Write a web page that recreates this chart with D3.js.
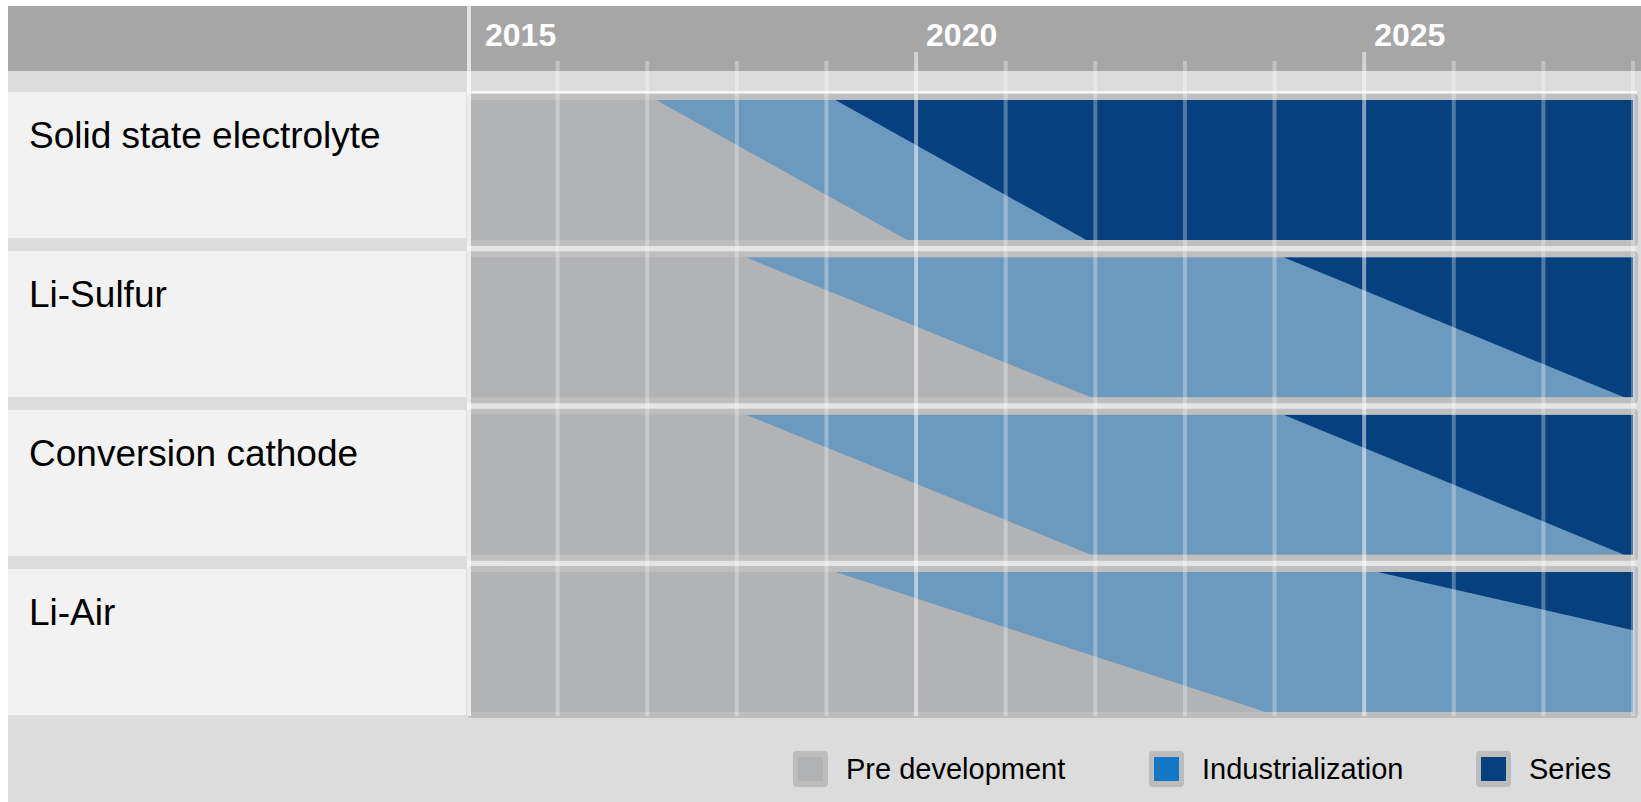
<!DOCTYPE html>
<html>
<head>
<meta charset="utf-8">
<script src="https://cdn.jsdelivr.net/npm/d3@7"></script>
<style>
  body { margin: 0; background: #fff; }
  svg text { font-family: 'Liberation Sans', Arial, sans-serif; }
</style>
</head>
<body>
<div id="chart"></div>
<script>
const technologies = ['Solid state electrolyte', 'Li-Sulfur', 'Conversion cathode', 'Li-Air']
// year where each phase boundary meets the top / bottom edge of a row
const industrializationTop = [2017.1, 2018.1, 2018.1, 2019.1]
const industrializationBottom = [2019.9, 2021.95, 2021.95, 2023.9]
const seriesTop = [2019.1, 2024.1, 2024.1, 2025.15]
const seriesBottom = [2021.9, 2027.9, 2027.9, 2032]
const yearLabels = [2015, 2020, 2025]
const phases = ['Pre development', 'Industrialization', 'Series']

const W = 1641
const H = 802
const colors = {
  pre: '#b2b3b5',
  ind: '#6c9abf',
  ser: '#07407e'
}
const legendColors = ['#b1b2b4', '#1477c5', '#07407e']

const rows = technologies.map((name, i) => ({
  name,
  indTop: industrializationTop[i],
  indBottom: industrializationBottom[i],
  serTop: seriesTop[i],
  serBottom: seriesBottom[i]
}))

const svg = d3.select('#chart')
  .append('svg')
  .attr('width', W)
  .attr('height', H)

const x = d3.scaleLinear()
  .domain([2015, 2028])
  .range([468, 1633])

const yLabel = d3.scaleBand()
  .domain(technologies)
  .range([92, 715])
  .paddingInner(0.082)

const yRow = d3.scaleBand()
  .domain(technologies)
  .range([100, 712])
  .paddingInner(0.11)

// backgrounds
svg.append('rect')
  .attr('x', 8).attr('y', 6)
  .attr('width', W - 8).attr('height', H - 6)
  .attr('fill', '#dcdcdc')

svg.append('rect')
  .attr('x', 8).attr('y', 6)
  .attr('width', W - 8).attr('height', 65)
  .attr('fill', '#a6a6a6')

svg.append('rect')
  .attr('x', x(2015)).attr('y', 92)
  .attr('width', x(2028) + 4 - x(2015)).attr('height', 624)
  .attr('fill', '#e4e4e4')

svg.append('rect')
  .attr('x', x(2015)).attr('y', 91)
  .attr('width', x(2028) + 4 - x(2015)).attr('height', 2)
  .attr('fill', '#f6f6f6')

// label panels
svg.selectAll('.panel')
  .data(technologies)
  .enter()
  .append('rect')
  .attr('class', 'panel')
  .attr('x', 8)
  .attr('y', d => yLabel(d))
  .attr('width', 458)
  .attr('height', yLabel.bandwidth())
  .attr('fill', '#f2f2f2')

svg.selectAll('.label')
  .data(technologies)
  .enter()
  .append('text')
  .attr('class', 'label')
  .attr('x', 29)
  .attr('y', d => yLabel(d) + 56)
  .attr('font-size', 37)
  .attr('fill', '#000')
  .text(d => d)

// rows
const x0 = x(2015) + 3
const x1 = x(2028)

const defs = svg.append('defs')
rows.forEach((d, i) => {
  defs.append('clipPath')
    .attr('id', `clip-${i}`)
    .append('rect')
    .attr('x', x0)
    .attr('y', yRow(d.name))
    .attr('width', x1 - x0)
    .attr('height', yRow.bandwidth())
})

const row = svg.selectAll('.row')
  .data(rows)
  .enter()
  .append('g')
  .attr('class', 'row')

row.append('rect')
  .attr('x', x0 - 4)
  .attr('y', d => yRow(d.name) - 6)
  .attr('width', x1 - x0 + 9)
  .attr('height', yRow.bandwidth() + 12)
  .attr('rx', 4)
  .attr('fill', '#bebebe')

row.append('rect')
  .attr('x', x0)
  .attr('y', d => yRow(d.name))
  .attr('width', x1 - x0)
  .attr('height', yRow.bandwidth())
  .attr('fill', colors.pre)

const phasePoly = (top, bottom) => d => {
  const y0 = yRow(d.name)
  const y1 = y0 + yRow.bandwidth()
  const far = x1 + 800
  return [[x(d[top]), y0], [far, y0], [far, y1], [x(d[bottom]), y1]]
    .map(p => p.join(',')).join(' ')
}

row.append('polygon')
  .attr('clip-path', (d, i) => `url(#clip-${i})`)
  .attr('points', phasePoly('indTop', 'indBottom'))
  .attr('fill', colors.ind)

row.append('polygon')
  .attr('clip-path', (d, i) => `url(#clip-${i})`)
  .attr('points', phasePoly('serTop', 'serBottom'))
  .attr('fill', colors.ser)

// year grid
const years = d3.range(2016, 2029)
svg.selectAll('.grid')
  .data(years)
  .enter()
  .append('line')
  .attr('class', 'grid')
  .attr('x1', d => x(d))
  .attr('x2', d => x(d))
  .attr('y1', d => (d % 5 === 0 ? 52 : 61))
  .attr('y2', 716)
  .attr('stroke', '#fff')
  .attr('stroke-width', 4)
  .attr('stroke-opacity', d => (d % 5 === 0 ? 0.5 : 0.3))

svg.append('line')
  .attr('x1', x(2015) + 1).attr('x2', x(2015) + 1)
  .attr('y1', 6).attr('y2', 716)
  .attr('stroke', '#fff')
  .attr('stroke-width', 4)
  .attr('stroke-opacity', 0.7)

svg.selectAll('.year')
  .data(yearLabels)
  .enter()
  .append('text')
  .attr('class', 'year')
  .attr('x', d => x(d) + (d === 2015 ? 17 : 10))
  .attr('y', 46)
  .attr('font-size', 32)
  .attr('font-weight', 'bold')
  .attr('fill', '#fff')
  .text(d => d)

// legend
const legendX = [793, 1149, 1476]
const legend = svg.selectAll('.legend')
  .data(phases)
  .enter()
  .append('g')
  .attr('class', 'legend')
  .attr('transform', (d, i) => `translate(${legendX[i]},751)`)

legend.append('rect')
  .attr('width', 35)
  .attr('height', 36)
  .attr('rx', 4)
  .attr('fill', '#bcbcbc')

legend.append('rect')
  .attr('x', 5)
  .attr('y', 6)
  .attr('width', 25)
  .attr('height', 24)
  .attr('fill', (d, i) => legendColors[i])

legend.append('text')
  .attr('x', 53)
  .attr('y', 28)
  .attr('font-size', 29)
  .attr('fill', '#000')
  .text(d => d)
</script>
</body>
</html>
